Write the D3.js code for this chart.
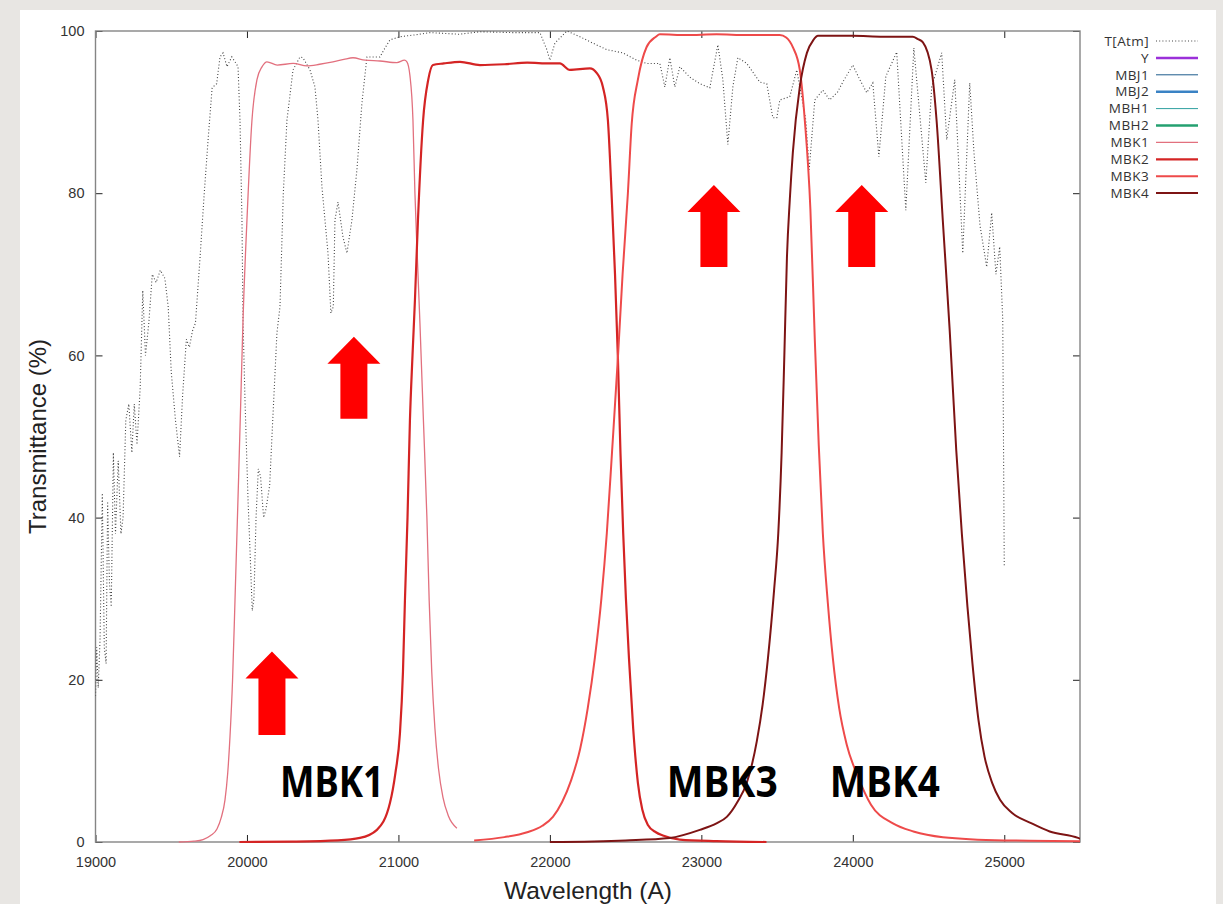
<!DOCTYPE html>
<html>
<head>
<meta charset="utf-8">
<script src="https://cdn.jsdelivr.net/npm/d3@7"></script>
<style>
  html, body { margin: 0; padding: 0; background: #e8e6e3; }
  svg { display: block; }
</style>
</head>
<body>
<svg id="chart" width="1223" height="904"></svg>
<script>
// ---------------- DATA ----------------
const xTicks = [19000, 20000, 21000, 22000, 23000, 24000, 25000];
const yTicks = [0, 20, 40, 60, 80, 100];
const xLabel = "Wavelength (A)";
const yLabel = "Transmittance (%)";

const legendNames = ["T[Atm]", "Y", "MBJ1", "MBJ2", "MBH1", "MBH2", "MBK1", "MBK2", "MBK3", "MBK4"];

// atmospheric transmission [wavelength A, %]
const tAtm = [
  [19000,18],[19008,24],[19018,19],[19030,25],[19045,43],[19058,24],[19070,22],[19080,42],[19092,32],[19104,29],
  [19118,48],[19132,38],[19150,47],[19168,38],[19182,40],[19200,52],[19220,54],[19240,48],[19256,54],[19274,49],
  [19295,56],[19312,68],[19330,60],[19352,64],[19375,70],[19400,69],[19428,70.5],[19458,69.5],[19480,66],[19500,58],
  [19528,52],[19555,47.5],[19575,55],[19600,62],[19620,61],[19640,63],[19660,64],[19690,72],[19718,80],[19745,87],
  [19770,93],[19800,93.5],[19822,96.8],[19842,97.3],[19868,95.6],[19900,96.8],[19921,96.2],[19941,95.6],[19954,89],[19967,76.7],
  [19974,64.4],[19987,54.5],[20007,42.2],[20020,36],[20035,28.5],[20046,30],[20060,40],[20075,46],[20090,45],[20110,40],
  [20125,41],[20150,44],[20165,50],[20198,62.8],[20218,66],[20240,80],[20264,89],[20304,95.2],[20350,96.8],[20370,96.7],
  [20416,95.2],[20449,93.1],[20469,89],[20495,80.8],[20535,72.6],[20554,65.2],[20570,66],[20581,76.7],[20601,78.9],[20634,74.6],
  [20660,72.6],[20693,76.7],[20726,82.9],[20759,91.1],[20792,96.8],[20832,96.8],[20878,96.8],[20911,97.9],[20944,98.9],[21010,99.3],
  [21100,99.5],[21210,99.8],[21400,99.6],[21540,99.9],[21760,99.8],[21934,99.8],[21980,97.7],[22000,96.4],[22033,98.5],[22112,100],
  [22198,99.3],[22284,98.5],[22376,97.7],[22482,97.3],[22574,96.4],[22640,96],[22726,96],[22759,93.1],[22792,96.7],[22825,93.1],
  [22858,95.6],[22924,94.3],[22990,93.5],[23056,93],[23109,98.3],[23142,94],[23175,86],[23208,93.1],[23241,96.7],[23300,96],
  [23386,93.7],[23432,93.5],[23472,89.3],[23498,89.3],[23518,91.5],[23584,91.9],[23630,95.2],[23690,89],[23712,82.9],[23749,91.5],
  [23802,92.7],[23848,91.5],[23900,92.5],[23934,93.7],[24000,95.8],[24046,94],[24092,92.4],[24132,93.6],[24172,84.5],[24218,94.4],
  [24290,97.4],[24350,77.9],[24403,97.9],[24482,81.3],[24521,93.1],[24587,97.3],[24620,86.6],[24673,94],[24726,72.6],[24772,93.6],
  [24800,85],[24840,76],[24884,70.9],[24917,77.6],[24945,70],[24970,73.4],[24990,64.4],[25000,33.9]
];

const mbk1 = [
  [19550,0],[19650,0.1],[19710,0.3],[19760,0.8],[19802,1.6],[19830,3],[19855,5.2],[19873,8.5],[19888,13],[19905,20],
  [19921,29.8],[19945,45],[19960,55],[19974,64.4],[20000,76.7],[20033,89],[20066,94],[20100,95.6],[20132,96.2],[20200,95.8],
  [20305,96],[20396,95.7],[20480,95.9],[20568,96.2],[20640,96.5],[20700,96.7],[20780,96.4],[20878,96.3],[20990,96.1],[21040,96.4],
  [21056,96.2],[21076,94.5],[21096,89],[21109,80],[21125,72],[21142,64],[21165,52],[21188,40],[21203,29.8],[21220,21],
  [21241,14],[21265,9],[21294,5.5],[21330,3.2],[21386,1.7]
];

const mbk2 = [
  [19950,0],[20300,0.05],[20600,0.2],[20746,0.5],[20858,1.5],[20944,4.8],[20980,8.5],[21010,13.4],[21030,21],[21043,29.8],
  [21060,40],[21076,52],[21093,60],[21109,66.8],[21129,76.7],[21163,89],[21197,94],[21228,95.8],[21300,96],[21407,96.2],
  [21538,95.8],[21700,95.9],[21850,96.1],[22000,96],[22066,96],[22132,95.2],[22264,95.4],[22310,94.8],[22350,93.1],[22383,89],
  [22409,79.2],[22430,70],[22449,59.7],[22466,48],[22484,38.1],[22502,30],[22522,22.7],[22550,14],[22581,7.3],[22610,4],
  [22647,2.1],[22700,1.2],[22746,0.8],[22858,0.3],[23100,0.1],[23430,0]
];

const mbk3 = [
  [21500,0.2],[21700,0.6],[21850,1.2],[21950,2.0],[22020,3.1],[22080,4.9],[22140,7.6],[22200,11.5],[22250,16.5],[22297,22.7],
  [22340,30],[22376,38.1],[22410,48],[22449,59.7],[22480,70],[22515,80],[22540,88.5],[22581,94],[22638,98],[22700,99.3],
  [22726,99.6],[22900,99.5],[23100,99.6],[23300,99.5],[23518,99.5],[23560,99.2],[23604,98],[23650,95.2],[23683,89],[23720,78],
  [23749,62],[23775,49],[23802,38.1],[23835,29.5],[23868,22.7],[23910,16.5],[23960,12],[24033,8.1],[24120,4.6],[24265,2.3],
  [24400,1.3],[24595,0.6],[25000,0.2],[25500,0.1]
];

const mbk4 = [
  [22000,0],[22500,0.2],[22790,0.5],[22990,1.5],[23100,2.3],[23168,3.1],[23240,5],[23300,7.3],[23366,12.4],[23405,17],
  [23440,22.7],[23480,31],[23508,38.1],[23530,48],[23548,60],[23565,72],[23584,79.2],[23604,85],[23650,93.1],[23697,97.3],
  [23740,98.9],[23770,99.4],[24000,99.4],[24200,99.3],[24396,99.3],[24430,99],[24463,98.6],[24520,95.2],[24553,89],[24594,76.7],
  [24640,63],[24683,48.3],[24720,38],[24757,29],[24790,22],[24830,15],[24870,10.5],[24920,7.3],[24972,5.2],[25050,3.6],
  [25181,2.3],[25300,1.3],[25487,0.5],[25500,0.4]
];

// annotation arrows (wavelength, top %, bottom %)
const arrowX = [20165, 20706, 23083, 24059];
const arrowTop = [23.5, 62.3, 81.0, 81.0];
const arrowBottom = [13.2, 52.2, 70.9, 70.9];

// band labels (left wavelength, baseline %)
const bandLabelText = ["MBK1", "MBK3", "MBK4"];
const bandLabelX = [20218, 22772, 23848];
const bandLabelY = [5.6, 5.6, 5.6];

// ---------------- STYLES ----------------
const legendStyles = {
  "T[Atm]": { color: "#444", width: 1.1, dash: "1,2.2" },
  "Y":      { color: "#9b30d9", width: 2.5 },
  "MBJ1":   { color: "#1d5c8c", width: 1 },
  "MBJ2":   { color: "#3a82c4", width: 2.5 },
  "MBH1":   { color: "#2f9f9f", width: 1 },
  "MBH2":   { color: "#24a070", width: 2.5 },
  "MBK1":   { color: "#e2707e", width: 1.3 },
  "MBK2":   { color: "#d42424", width: 2.2 },
  "MBK3":   { color: "#ee4a4a", width: 2 },
  "MBK4":   { color: "#7d1414", width: 2 }
};

// ---------------- DRAW ----------------
const svg = d3.select("#chart");
const W = 1223, H = 904;

svg.append("rect").attr("x", 0).attr("y", 0).attr("width", W).attr("height", H).attr("fill", "#e8e6e3");
svg.append("rect").attr("x", 20).attr("y", 10).attr("width", 1196).attr("height", H - 10).attr("fill", "#ffffff");

const L = 95.5, R = 1080, T = 31, B = 842;
const x = d3.scaleLinear().domain([19000, 25500]).range([L, R]);
const y = d3.scaleLinear().domain([0, 100]).range([B, T]);

svg.append("clipPath").attr("id", "clip")
  .append("rect").attr("x", L).attr("y", T - 2).attr("width", R - L).attr("height", B - T + 4);

const font = "'Liberation Sans', Arial, sans-serif";

// axes (ticks inward)
const axB = svg.append("g").attr("transform", `translate(0,${B})`)
  .call(d3.axisBottom(x).tickValues(xTicks).tickSize(-7).tickSizeOuter(0).tickPadding(15).tickFormat(d3.format("d")));
const axT = svg.append("g").attr("transform", `translate(0,${T})`)
  .call(d3.axisTop(x).tickValues(xTicks).tickSize(-7).tickSizeOuter(0).tickFormat(""));
const axL = svg.append("g").attr("transform", `translate(${L},0)`)
  .call(d3.axisLeft(y).tickValues(yTicks).tickSize(-7).tickSizeOuter(0).tickPadding(11).tickFormat(d3.format("d")));
const axR = svg.append("g").attr("transform", `translate(${R},0)`)
  .call(d3.axisRight(y).tickValues(yTicks).tickSize(-7).tickSizeOuter(0).tickFormat(""));

[axB, axT, axL, axR].forEach(g => {
  g.select(".domain").remove();
  g.selectAll(".tick line").attr("stroke", "#222").attr("stroke-width", 1);
  g.selectAll(".tick text").attr("font-family", font).attr("font-size", 14.5).attr("fill", "#333");
});

// frame
svg.append("rect").attr("x", L).attr("y", T).attr("width", R - L).attr("height", B - T)
  .attr("fill", "none").attr("stroke", "#858585").attr("stroke-width", 1.4);

// series
const plot = svg.append("g").attr("clip-path", "url(#clip)");
const lineLin = d3.line().x(d => x(d[0])).y(d => y(d[1]));
const lineSmooth = d3.line().x(d => x(d[0])).y(d => y(d[1])).curve(d3.curveMonotoneX);

plot.append("path").datum(tAtm).attr("d", lineLin)
  .attr("fill", "none").attr("stroke", legendStyles["T[Atm]"].color)
  .attr("stroke-width", legendStyles["T[Atm]"].width).attr("stroke-dasharray", legendStyles["T[Atm]"].dash);

const bands = [["MBK1", mbk1], ["MBK2", mbk2], ["MBK3", mbk3], ["MBK4", mbk4]];
bands.forEach(([name, data]) => {
  const s = legendStyles[name];
  plot.append("path").datum(data).attr("d", lineSmooth)
    .attr("fill", "none").attr("stroke", s.color).attr("stroke-width", s.width)
    .attr("stroke-linejoin", "round");
});

// arrows
const headW = 53, shaftW = 27, headH = 27;
arrowX.forEach((ax, i) => {
  const cx = x(ax), yt = y(arrowTop[i]), yb = y(arrowBottom[i]);
  const p = d3.path();
  p.moveTo(cx, yt);
  p.lineTo(cx + headW / 2, yt + headH);
  p.lineTo(cx + shaftW / 2, yt + headH);
  p.lineTo(cx + shaftW / 2, yb);
  p.lineTo(cx - shaftW / 2, yb);
  p.lineTo(cx - shaftW / 2, yt + headH);
  p.lineTo(cx - headW / 2, yt + headH);
  p.closePath();
  svg.append("path").attr("d", p.toString()).attr("fill", "#ff0000");
});

// band labels
const labelWidths = [104, 111, 110];
bandLabelText.forEach((t, i) => {
  svg.append("text").attr("x", x(bandLabelX[i])).attr("y", y(bandLabelY[i]))
    .attr("font-family", "'Noto Sans', 'Open Sans', sans-serif").attr("font-weight", 700)
    .attr("font-size", 43).attr("fill", "#000")
    .attr("textLength", labelWidths[i]).attr("lengthAdjust", "spacingAndGlyphs")
    .text(t);
});

// axis titles
svg.append("text").attr("x", 588).attr("y", 899)
  .attr("text-anchor", "middle").attr("font-family", font).attr("font-size", 24.5).attr("fill", "#222")
  .text(xLabel);
svg.append("text").attr("transform", `translate(46,${(T + B) / 2}) rotate(-90)`)
  .attr("text-anchor", "middle").attr("font-family", font).attr("font-size", 24).attr("fill", "#222")
  .text(yLabel);

// legend
const lg = svg.append("g");
legendNames.forEach((n, i) => {
  const yy = 41 + i * 16.9;
  const s = legendStyles[n];
  lg.append("text").attr("x", 1149).attr("y", yy).attr("dy", "0.35em")
    .attr("text-anchor", "end").attr("font-family", "'Open Sans', 'Noto Sans', sans-serif")
    .attr("font-size", 13.5).attr("letter-spacing", 0.4).attr("fill", "#333").text(n);
  lg.append("line").attr("x1", 1156).attr("x2", 1198).attr("y1", yy).attr("y2", yy)
    .attr("stroke", s.color).attr("stroke-width", s.width)
    .attr("stroke-dasharray", s.dash || null);
});
</script>
</body>
</html>
